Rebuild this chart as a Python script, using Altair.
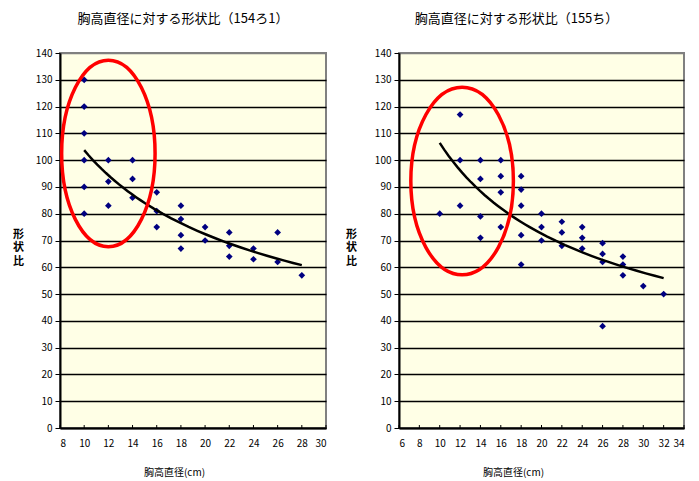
import altair as alt
import pandas as pd

# ---------------- data ----------------
left_x = [10, 10, 10, 10, 10, 10, 12, 12, 12, 14, 14, 14, 16, 16, 16,
          18, 18, 18, 18, 20, 20, 22, 22, 22, 24, 24, 26, 26, 28]
left_y = [130, 120, 110, 100, 90, 80, 100, 92, 83, 100, 93, 86, 88, 81, 75,
          83, 78, 72, 67, 75, 70, 73, 68, 64, 67, 63, 73, 62, 57]

right_x = [10, 12, 12, 12, 14, 14, 14, 14, 16, 16, 16, 16, 18, 18, 18, 18, 18,
           20, 20, 20, 22, 22, 22, 24, 24, 24, 26, 26, 26, 26, 28, 28, 28, 30, 32]
right_y = [80, 117, 100, 83, 100, 93, 79, 71, 100, 94, 88, 75, 94, 89, 83, 72, 61,
           80, 75, 70, 77, 73, 68, 75, 71, 67, 69, 65, 62, 38, 64, 61, 57, 53, 50]

y_ticks = list(range(0, 141, 10))
left_x_ticks = list(range(8, 31, 2))
right_x_ticks = list(range(6, 35, 2))

left_ellipse_center = [12.0, 102.5]
right_ellipse_center = [12.2, 92.2]

titles = ["胸高直径に対する形状比（154ろ1）", "胸高直径に対する形状比（155ち）"]
x_title = "胸高直径(cm)"
y_title = ["形", "状", "比"]

FONT = "Noto Sans CJK JP"
H = 375


def ellipse_path(rx):
    k = 0.5523
    a, b = k * rx, rx
    return (f"M 0 -1 C {a:.4f} -1 {b:.4f} {-k:.4f} {b:.4f} 0 "
            f"C {b:.4f} {k:.4f} {a:.4f} 1 0 1 "
            f"C {-a:.4f} 1 {-b:.4f} {k:.4f} {-b:.4f} 0 "
            f"C {-b:.4f} {-k:.4f} {-a:.4f} -1 0 -1 Z")


def panel(xs, ys, xticks, center, title, W, title_dx, ytitle_x, ell_rx, ell_size):
    pts = pd.DataFrame({"d": xs, "r": ys})
    x_enc = alt.X(
        "d:Q",
        scale=alt.Scale(domain=[xticks[0], xticks[-1]], nice=False, zero=False),
        axis=alt.Axis(values=xticks, title=x_title, grid=False, ticks=False,
                      labelPadding=10, titleX=114, titleY=44, titleAlign="center",
                      titleBaseline="middle", titleFontSize=10,
                      titleFontWeight="normal"),
    )
    y_enc = alt.Y(
        "r:Q",
        scale=alt.Scale(domain=[0, 140], nice=False, zero=True),
        axis=alt.Axis(values=y_ticks, title=y_title, grid=True,
                      gridColor={"condition": {"test": "datum.value >= 140", "value": "#808080"},
                                 "value": "#000000"},
                      gridWidth=1.5, tickSize=5, labelPadding=3, titleAngle=0,
                      titleX=ytitle_x, titleY=181, titleAlign="center",
                      titleBaseline="middle", titleLineHeight=13.5,
                      titleFontSize=11, titleFontWeight="bold"),
    )
    ticks = alt.Chart(pd.DataFrame({"d": xticks})).mark_rule(
        color="black", strokeWidth=1
    ).encode(x=x_enc, y=alt.value(H - 3), y2=alt.value(H))
    points = alt.Chart(pts).mark_point(
        shape="diamond", filled=True, color="#000080", size=45, opacity=1
    ).encode(x=x_enc, y=y_enc)
    trend = alt.Chart(pts).transform_regression(
        "d", "r", method="pow"
    ).mark_line(color="black", strokeWidth=2.5).encode(x=x_enc, y=y_enc)
    ell = alt.Chart(pd.DataFrame({"d": [center[0]], "r": [center[1]]})).mark_point(
        shape=ellipse_path(ell_rx), size=ell_size, filled=False, color="#FF0000",
        strokeWidth=3.5, opacity=1
    ).encode(x=x_enc, y=y_enc)
    return alt.layer(ticks, points, trend, ell).properties(
        width=W, height=H,
        title=alt.TitleParams(title, dx=title_dx, offset=22, fontSize=13,
                              fontWeight="normal", font=FONT, anchor="middle",
                              color="black"),
    )


left = panel(left_x, left_y, left_x_ticks, left_ellipse_center, titles[0],
             266, -10, -42, 0.501, 34782)
right = panel(right_x, right_y, right_x_ticks, right_ellipse_center, titles[1],
              285, -25, -48, 0.547, 35156)

chart = alt.hconcat(left, right, spacing=16).properties(
    padding={"left": 3, "top": 4, "right": 0, "bottom": 0}
).configure_view(
    fill="#FFFFE6", stroke="#808080", strokeWidth=2
).configure_axis(
    labelFont=FONT, labelFontSize=10, labelColor="black",
    titleFont=FONT, titleColor="black",
    domainColor="black", domainWidth=2, tickColor="black", tickWidth=1,
)

chart.save("out.html", embed_options={"renderer": "svg", "actions": False})
